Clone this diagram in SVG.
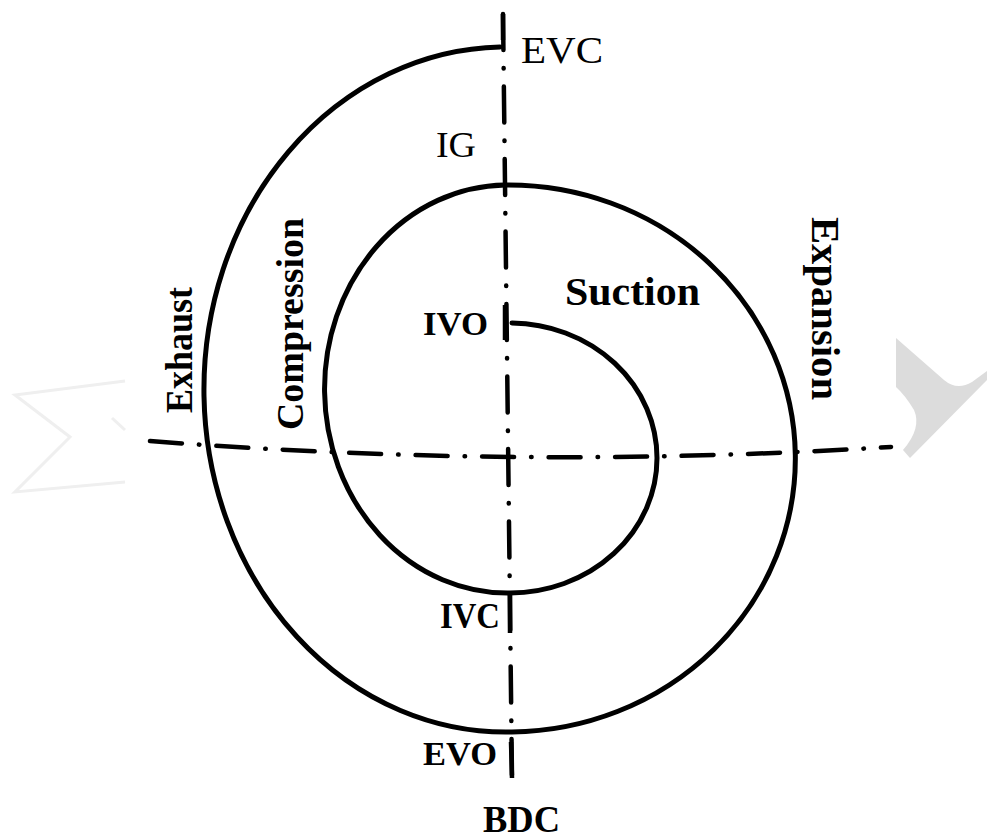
<svg xmlns="http://www.w3.org/2000/svg" width="987" height="840" viewBox="0 0 987 840">
<style>
.bg{fill:#ffffff}
.spiral{fill:none;stroke:#000;stroke-width:5;stroke-linecap:round}
.axisv{fill:none;stroke:#000;stroke-width:4.5;stroke-dasharray:36 18 0.5 18;stroke-linecap:round}
.axish{fill:none;stroke:#000;stroke-width:4.5;stroke-dasharray:32 17 0.5 17;stroke-linecap:round}
.tick{fill:none;stroke:#000;stroke-width:4.5}
.lbl{font-family:"Liberation Serif","Times New Roman",serif;fill:#000}
.b{font-weight:bold}
.wm{fill:#dcdcdc}
.wm2{fill:none;stroke:#efefef;stroke-width:3}
</style>
<rect class="bg" x="0" y="0" width="987" height="840"/>
<g id="watermark">
<path class="wm" d="M896,338 L944,380 Q957,391 972,382 L987,371 L987,380 L910,458 L903,450 Q922,428 914,410 Q905,395 896,387 Z"/>
<path class="wm2" d="M125,381 L15,395 L70,437 L15,492 L125,482 M112,418 L125,430"/>
</g>
<g id="connectors">
<path id="axis-vertical" class="axisv" d="M503,14 L512,778"/>
<path id="axis-horizontal" class="axish" d="M150,441 Q520,470 891,447"/>
<path class="tick" d="M505,305 L505,340 M510,595 L510,633 M511,742 L512,778 M503,14 L503,40"/>
</g>
<g id="spiral">
<path class="spiral" d="M512,323 A147,135 0 0 1 657,458 A147,135 0 0 1 510,593 A183,204 0 0 1 505,185 A287,273.5 0 0 1 512,732 A302,342.5 0 0 1 500,47"/>
</g>
<g id="label-evc"><text class="lbl" x="521" y="63" font-size="37" textLength="82" lengthAdjust="spacingAndGlyphs">EVC</text></g>
<g id="label-ig"><text class="lbl" x="436" y="157" font-size="36" textLength="40" lengthAdjust="spacingAndGlyphs">IG</text></g>
<g id="label-ivo"><text class="lbl b" x="423" y="335" font-size="33" textLength="65" lengthAdjust="spacingAndGlyphs">IVO</text></g>
<g id="label-suction"><text class="lbl b" x="565" y="305" font-size="40" textLength="135" lengthAdjust="spacingAndGlyphs">Suction</text></g>
<g id="label-ivc"><text class="lbl b" x="440" y="628" font-size="36" textLength="60" lengthAdjust="spacingAndGlyphs">IVC</text></g>
<g id="label-evo"><text class="lbl b" x="423" y="765" font-size="33" textLength="74" lengthAdjust="spacingAndGlyphs">EVO</text></g>
<g id="label-bdc"><text class="lbl b" x="483" y="832" font-size="38" textLength="77" lengthAdjust="spacingAndGlyphs">BDC</text></g>
<g id="label-exhaust"><text class="lbl b" transform="translate(192,413) rotate(-90)" font-size="37" textLength="126" lengthAdjust="spacingAndGlyphs">Exhaust</text></g>
<g id="label-compression"><text class="lbl b" transform="translate(303,430) rotate(-90)" font-size="37" textLength="212" lengthAdjust="spacingAndGlyphs">Compression</text></g>
<g id="label-expansion"><text class="lbl b" transform="translate(812,217) rotate(90)" font-size="40" textLength="183" lengthAdjust="spacingAndGlyphs">Expansion</text></g>
</svg>
